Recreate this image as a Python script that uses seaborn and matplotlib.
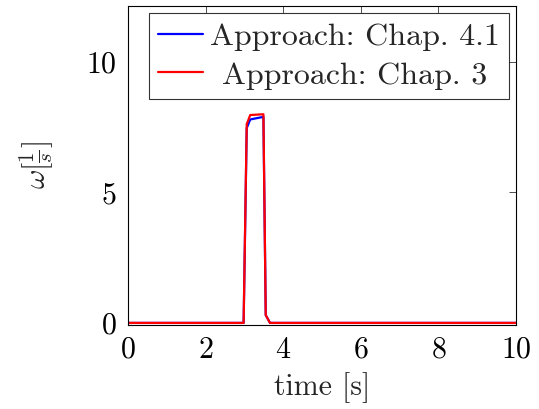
import matplotlib
matplotlib.use("Agg")
import matplotlib.pyplot as plt
import seaborn as sns
import pandas as pd

# Angular velocity samples from the two approaches
time_s = [0.0, 2.98, 3.06, 3.15, 3.49, 3.55, 3.66, 10.0]
omega_chap41 = [0.0, 0.0, 7.47, 7.80, 7.90, 0.30, 0.0, 0.0]
omega_chap3 = [0.0, 0.0, 7.62, 7.97, 8.00, 0.30, 0.0, 0.0]
labels = ["Approach: Chap. 4.1", "Approach: Chap. 3"]
x_ticks = [0, 2, 4, 6, 8, 10]
y_ticks = [0, 5, 10]

sns.set_theme(style="white")
plt.rcParams["font.family"] = ["cmr10"]
plt.rcParams["mathtext.fontset"] = "cm"
plt.rcParams["axes.formatter.use_mathtext"] = True

df = pd.concat([
    pd.DataFrame({"t": time_s, "w": omega_chap41, "series": labels[0]}),
    pd.DataFrame({"t": time_s, "w": omega_chap3, "series": labels[1]}),
])

fig = plt.figure(figsize=(5.39, 4.09), dpi=100)
ax = fig.add_axes([128 / 539, 1 - 325 / 409, (516 - 128) / 539, (325 - 6) / 409])

sns.lineplot(data=df, x="t", y="w", hue="series", palette=["#0000ff", "#ff0000"],
             ax=ax, linewidth=1.6, sort=False, estimator=None)

ax.set_xlim(0, 10)
ax.set_ylim(-0.08, 12.15)
ax.set_xticks(x_ticks)
ax.set_yticks(y_ticks)
ax.tick_params(direction="in", top=True, right=True, length=5, width=0.6,
               colors="#333333", labelcolor="black", labelsize=21.5, pad=8)
for s in ax.spines.values():
    s.set_color("black")
    s.set_linewidth(0.8)

ax.set_xlabel("time [s]", fontsize=21.5, labelpad=6)
ax.set_ylabel(r"$\omega[\frac{1}{s}]$", fontsize=21.5, labelpad=22)

leg = ax.legend(loc="upper right", fontsize=23, frameon=True, fancybox=False,
                edgecolor="black", handlelength=1.4, handletextpad=0.2,
                borderpad=0.3, labelspacing=0.32, borderaxespad=0.22)
leg.get_frame().set_linewidth(0.8)

# centre the shorter entry within the legend column
fig.canvas.draw()
texts = leg.get_texts()
w0 = texts[0].get_window_extent().width
w1 = texts[1].get_window_extent().width
shift = (w0 - w1) / 2 * 72 / fig.dpi
texts[1].set_transform(texts[1].get_transform() +
                       matplotlib.transforms.ScaledTranslation(shift / 72, 0, fig.dpi_scale_trans))

fig.savefig("out.png", dpi=100)
